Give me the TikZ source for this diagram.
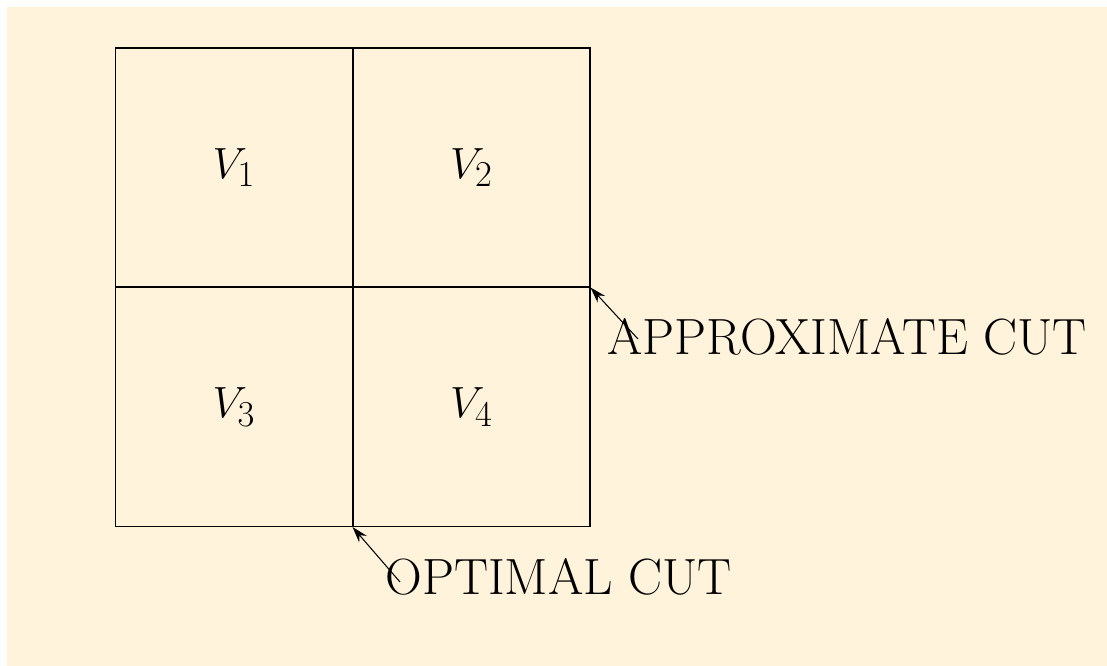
\documentclass[tikz,border=0pt]{standalone}
\usetikzlibrary{arrows.meta,positioning}
\usepackage{xcolor}
\definecolor{cutcream}{RGB}{255,244,219}

\begin{document}
\begin{tikzpicture}[x=0.02cm,y=-0.02cm,
      cell/.style={draw,line width=0.6pt,minimum width=4.74cm,minimum height=4.78cm,inner sep=0pt,font=\fontsize{29}{34}\selectfont},
      lbl/.style={font=\fontsize{29}{34}\selectfont,inner sep=0pt,anchor=west},
      >={Stealth[length=3.2mm,width=2mm]}]
    \fill[white] (0,0) rectangle (1107,666);
    \fill[cutcream] (7,7) rectangle (1107,666);
    \useasboundingbox (0,0) rectangle (1107,666);
    % four parts of the graph
    \node[cell] (v1) at (234,167.5) {$V_1$};
    \node[cell] (v2) at (471.5,167.5) {$V_2$};
    \node[cell] (v3) at (234,407) {$V_3$};
    \node[cell] (v4) at (471.5,407) {$V_4$};
    % the two cuts
    \node[lbl] (apx) at (607,337) {APPROXIMATE CUT};
    \node[lbl] (opt) at (385,577) {OPTIMAL CUT};
    \coordinate (apxtail) at ([xshift=0.62cm,yshift=-0.04cm]apx.west);
    \coordinate (opttail) at ([xshift=0.3cm,yshift=-0.1cm]opt.west);
    \draw[->,line width=0.6pt] (apxtail) -- (v2.south east);
    \draw[->,line width=0.6pt] (opttail) -- (v4.south west);
  \end{tikzpicture}
\end{document}
